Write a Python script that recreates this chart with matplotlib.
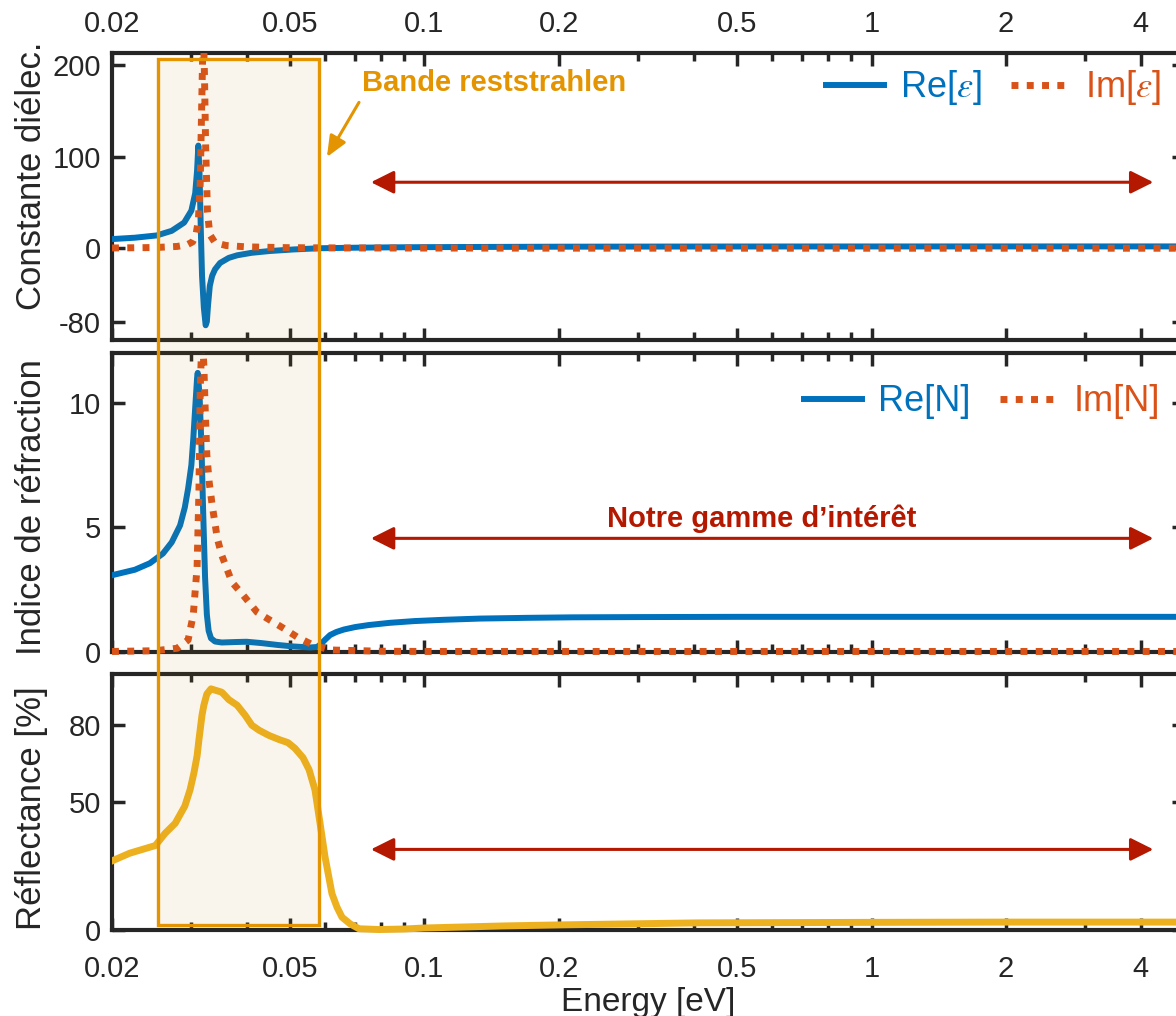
import matplotlib
matplotlib.use("Agg")
import matplotlib.pyplot as plt
from matplotlib.patches import Rectangle
from matplotlib.ticker import NullFormatter
from matplotlib.transforms import blended_transform_factory, Bbox, TransformedBbox

plt.rcParams['font.family'] = ['Liberation Sans', 'DejaVu Sans']
plt.rcParams['mathtext.fontset'] = 'stix'

BLUE = '#0072BD'
ORANGE = '#D95319'
YELLOW = '#EDB120'
BAND = '#E39400'
RED = '#B41800'
INK = '#262626'

# --- values ---
e_re_eps = [0.0200, 0.0225, 0.0252, 0.0272, 0.0290, 0.0301, 0.0307, 0.0310, 0.0312, 0.0314,
            0.0316, 0.0318, 0.0321, 0.0324, 0.0326, 0.0328, 0.0331, 0.0335, 0.0340, 0.0349,
            0.0365, 0.0381, 0.0410, 0.0451, 0.0510, 0.0581, 0.070, 0.085, 0.100, 0.150,
            0.200, 0.350, 0.500, 1.00, 2.00, 5.00]
re_eps = [10, 11.5, 14, 19, 28, 41, 60, 85, 112, 80,
          20, -30, -65, -84, -80, -62, -41, -30, -23, -16,
          -10.5, -7.7, -5, -3, -1.3, 0, 0.6, 1.0, 1.2, 1.5,
          1.7, 1.85, 1.9, 1.95, 1.98, 2.0]

e_im_eps = [0.0200, 0.0250, 0.0280, 0.0295, 0.0303, 0.0308, 0.0312, 0.0315, 0.0317, 0.0319,
            0.0320, 0.0322, 0.0324, 0.0327, 0.0331, 0.0340, 0.0360, 0.0400, 0.0500, 0.0700,
            0.100, 0.200, 0.500, 1.00, 5.00]
im_eps = [0.3, 0.8, 2, 4, 7, 14, 30, 70, 140, 210,
          240, 190, 110, 40, 15, 6, 3, 1.5, 0.6, 0.3,
          0.2, 0.1, 0.05, 0.03, 0.02]

e_re_n = [0.0200, 0.0225, 0.0243, 0.0260, 0.0272, 0.0284, 0.0291, 0.0296, 0.0301, 0.0304,
          0.0307, 0.0310, 0.0311, 0.0314, 0.0317, 0.0320, 0.0323, 0.0326, 0.0329, 0.0333,
          0.0340, 0.0352, 0.0380, 0.0400, 0.0430, 0.0470, 0.0510, 0.0555, 0.0575, 0.0585,
          0.0600, 0.0615, 0.0635, 0.0660, 0.0700, 0.0750, 0.0837, 0.0950, 0.110, 0.133,
          0.170, 0.215, 0.300, 0.500, 1.00, 5.00]
re_n = [3.08, 3.3, 3.56, 3.95, 4.4, 5.08, 5.8, 6.56, 7.5, 8.56,
        9.8, 11.0, 11.2, 10.3, 8.3, 5.5, 3.0, 1.5, 0.85, 0.55,
        0.42, 0.38, 0.40, 0.41, 0.36, 0.28, 0.22, 0.18, 0.2, 0.3,
        0.5, 0.68, 0.8, 0.9, 1.0, 1.08, 1.17, 1.24, 1.29, 1.34,
        1.37, 1.39, 1.40, 1.41, 1.41, 1.41]

e_im_n = [0.0200, 0.0250, 0.0280, 0.0296, 0.0304, 0.0310, 0.0313, 0.0315, 0.0318, 0.0321,
          0.0323, 0.0326, 0.0330, 0.0335, 0.0344, 0.0352, 0.0371, 0.0393, 0.0422, 0.0451,
          0.0483, 0.0519, 0.0563, 0.0615, 0.0800, 0.100, 0.200, 0.500, 1.00, 5.00]
im_n = [0.02, 0.05, 0.15, 0.48, 1.5, 3.4, 6.5, 10.5, 12.8, 11.5,
        9.9, 7.9, 6.8, 5.9, 4.56, 3.88, 2.8, 2.28, 1.6, 1.28,
        0.96, 0.6, 0.28, 0.08, 0.03, 0.02, 0.02, 0.02, 0.02, 0.02]

e_refl = [0.0200, 0.0219, 0.0250, 0.0263, 0.0277, 0.0291, 0.0299, 0.0305, 0.0310, 0.0313,
          0.0318, 0.0321, 0.0326, 0.0333, 0.0340, 0.0352, 0.0365, 0.0381, 0.0397, 0.0411,
          0.0427, 0.0449, 0.0473, 0.0495, 0.0513, 0.0535, 0.0552, 0.0569, 0.0584, 0.0599,
          0.0621, 0.0637, 0.0654, 0.0682, 0.0714, 0.0791, 0.0900, 0.100, 0.150, 0.200,
          0.410, 1.00, 2.00, 5.00]
refl = [27, 30, 33, 37.8, 41.7, 48.4, 54.8, 61.4, 68, 74.4,
        84, 87.8, 92.2, 94.2, 93.7, 92.9, 90, 87.8, 83.9, 80,
        78, 76, 74.4, 73.2, 71, 67.3, 62.6, 54.7, 41.7, 28.7,
        14.2, 9, 5, 2.4, 0.5, 0.2, 0.4, 0.8, 1.6, 2.0,
        2.8, 3.0, 3.1, 3.1]

x_major = [0.02, 0.05, 0.1, 0.2, 0.5, 1, 2, 4]
x_major_labels = ['0.02', '0.05', '0.1', '0.2', '0.5', '1', '2', '4']
x_minor = [0.03, 0.04, 0.06, 0.07, 0.08, 0.09, 0.3, 0.4, 0.6, 0.7, 0.8, 0.9, 3]

band = (0.0253, 0.0581)          # reststrahlen band limits [eV]
range_of_interest = (0.0759, 4.27)

DOTS = (0, (1, 1.2))

fig = plt.figure(figsize=(11.76, 10.16), dpi=100)
L, W = 112 / 1176, 1072 / 1176
ax1 = fig.add_axes([L, 0.6654, W, 0.2825])
ax2 = fig.add_axes([L, 0.3583, W, 0.2943])
ax3 = fig.add_axes([L, 0.0846, W, 0.2520])

l1, = ax1.plot(e_re_eps, re_eps, color=BLUE, lw=4.3, label=r'Re[$\varepsilon$]', zorder=3)
l2, = ax1.plot(e_im_eps, im_eps, color=ORANGE, lw=5, ls=DOTS, label=r'Im[$\varepsilon$]', zorder=3)
l3, = ax2.plot(e_re_n, re_n, color=BLUE, lw=4.3, label='Re[N]', zorder=3)
l4, = ax2.plot(e_im_n, im_n, color=ORANGE, lw=5, ls=DOTS, label='Im[N]', zorder=3)
l5, = ax3.plot(e_refl, refl, color=YELLOW, lw=5, zorder=3)

# let the lines spill over the bottom spine a little, like the original
for ax, lines in ((ax1, [l1, l2]), (ax2, [l3, l4]), (ax3, [l5])):
    for ln in lines:
        ln.set_clip_box(TransformedBbox(Bbox([[0, -0.04], [1, 1]]), ax.transAxes))

ax1.set_ylim(-100, 213)
ax2.set_ylim(0, 12)
ax3.set_ylim(0, 100)
ax1.set_yticks([-80, 0, 100, 200], ['-80', '0', '100', '200'])
ax2.set_yticks([0, 5, 10], ['0', '5', '10'])
ax3.set_yticks([0, 50, 80], ['0', '50', '80'])

for ax in (ax1, ax2, ax3):
    ax.set_xscale('log')
    ax.set_xlim(0.02, 5)
    ax.set_xticks(x_major, x_major_labels)
    ax.set_xticks(x_minor, minor=True)
    ax.xaxis.set_minor_formatter(NullFormatter())
    ax.set_facecolor('none')
    ax.tick_params(which='both', direction='in', top=True, right=True,
                   width=2.5, color=INK, labelcolor=INK, labelsize=21, pad=8)
    ax.tick_params(which='major', length=9)
    ax.tick_params(which='minor', length=6)
    for s in ax.spines.values():
        s.set_linewidth(3)
        s.set_color(INK)

ax1.tick_params(axis='x', which='both', labeltop=True, labelbottom=False, pad=11)
ax2.tick_params(axis='x', which='both', labelbottom=False)
ax3.tick_params(axis='x', which='both', pad=18)

ax1.set_ylabel('Constante diélec.', fontsize=25, color=INK, va='center')
ax2.set_ylabel('Indice de réfraction', fontsize=25, color=INK, va='center')
ax3.set_ylabel('Réflectance [%]', fontsize=25, color=INK, va='center')
ax1.yaxis.set_label_coords(-0.075, 0.571)
ax2.yaxis.set_label_coords(-0.075, 0.485)
ax3.yaxis.set_label_coords(-0.075, 0.477)
ax3.set_xlabel('Energy [eV]', fontsize=24, color=INK, labelpad=3)

leg_kw = dict(loc='center right', ncol=2, frameon=False, fontsize=26, handlelength=1.6,
              handletextpad=0.45, columnspacing=0.8, borderpad=0, borderaxespad=0,
              labelcolor='linecolor')
ax1.legend(handles=[l1, l2], bbox_to_anchor=(0.978, 0.878), **leg_kw)
ax2.legend(handles=[l3, l4], bbox_to_anchor=(0.978, 0.836), **leg_kw)

# double arrows marking the range of interest
for ax, yv in ((ax1, 72), (ax2, 4.56), (ax3, 31.5)):
    ax.annotate('', xy=(range_of_interest[1], yv), xytext=(range_of_interest[0], yv),
                arrowprops=dict(arrowstyle='<|-|>,head_length=0.7,head_width=0.35',
                                color=RED, lw=2.2, mutation_scale=20, shrinkA=0, shrinkB=0))

ax2.text(0.569, 5.36, 'Notre gamme d’intérêt', ha='center', va='center',
         fontsize=21, fontweight='bold', color=RED)

ax1.annotate('Bande reststrahlen', xy=(0.0605, 99.5), xytext=(0.0725, 180),
             ha='left', va='center', fontsize=21, fontweight='bold', color=BAND,
             arrowprops=dict(arrowstyle='-|>,head_length=0.7,head_width=0.3', color=BAND,
                             lw=2.2, mutation_scale=18, shrinkA=2, shrinkB=0, relpos=(0, 0)))

# reststrahlen band box spanning all three panels
trans = blended_transform_factory(ax1.transData, fig.transFigure)
rect = Rectangle((band[0], (1016 - 925) / 1016), band[1] - band[0], 866 / 1016,
                 transform=trans, facecolor=(0.72, 0.49, 0.05, 0.07), edgecolor=BAND,
                 lw=2.4, zorder=10)
fig.add_artist(rect)

fig.savefig('out.png', dpi=100)
